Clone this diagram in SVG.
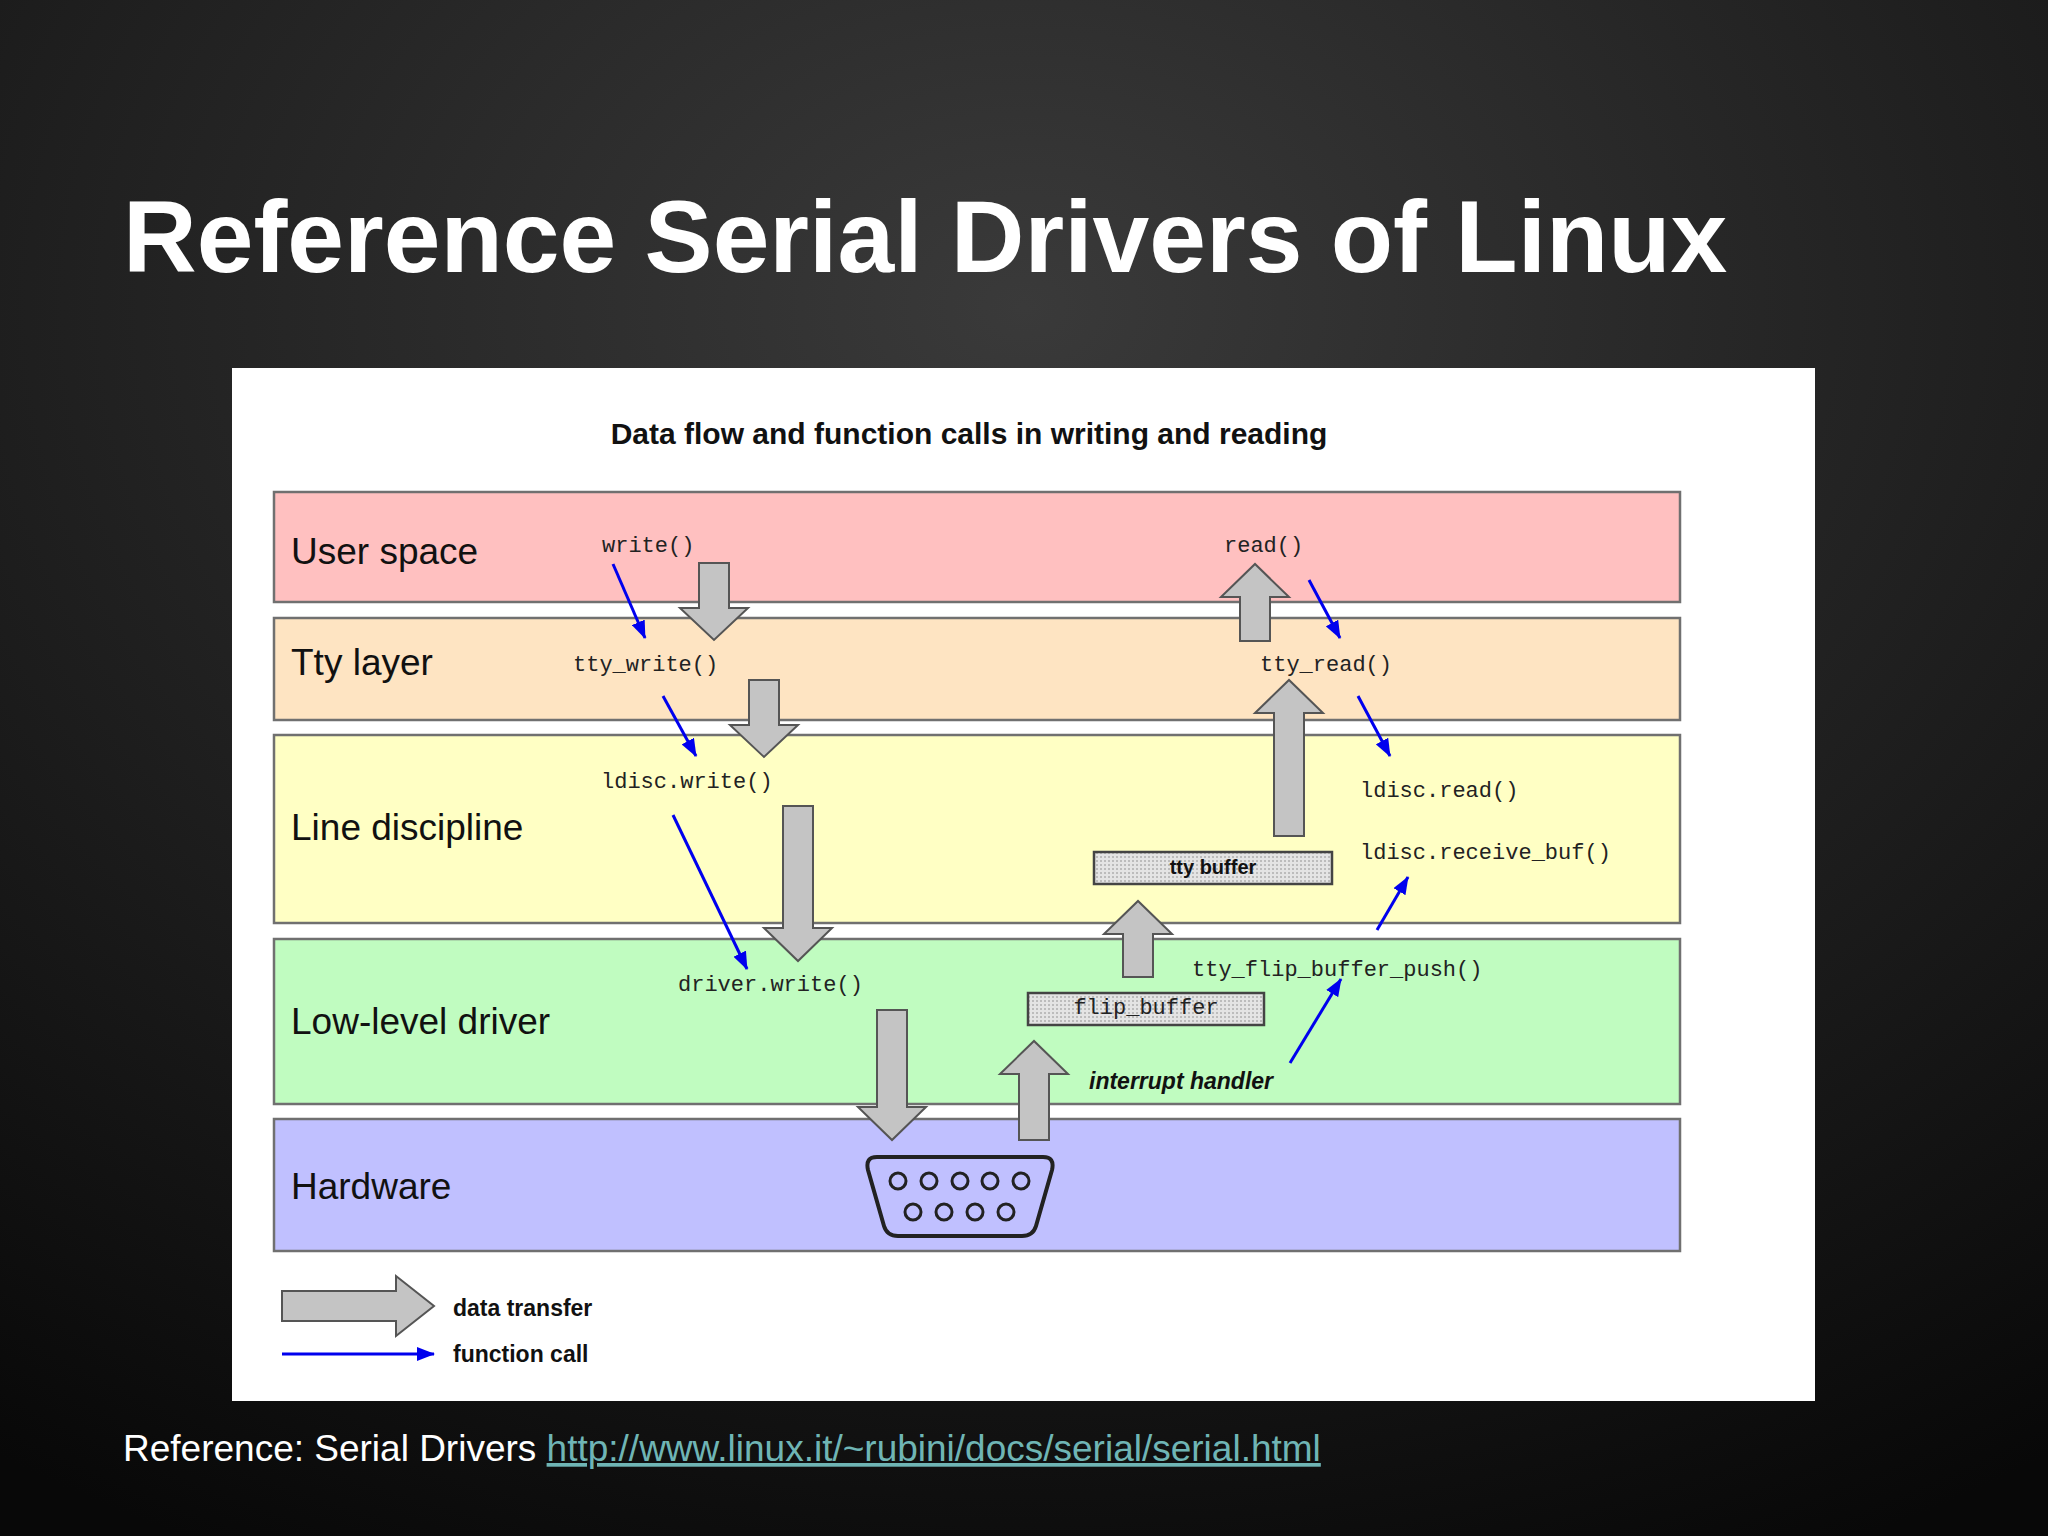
<svg xmlns="http://www.w3.org/2000/svg" width="2048" height="1536" viewBox="0 0 2048 1536">
<defs>
<radialGradient id="bg" cx="0.5" cy="0.2" r="0.9">
<stop offset="0" stop-color="#3a3a3a"/><stop offset="1" stop-color="#080808"/>
</radialGradient>
<pattern id="dots" width="4" height="4" patternUnits="userSpaceOnUse">
<rect width="4" height="4" fill="#e4e4e4"/><rect width="2" height="2" fill="#bcbcbc"/>
</pattern>
<marker id="bh" markerWidth="10" markerHeight="10" refX="9" refY="5" orient="auto" markerUnits="userSpaceOnUse" viewBox="0 0 10 10">
<path d="M0,0 L10,5 L0,10 z" fill="#0000ee"/>
</marker>
<marker id="bh2" markerWidth="18" markerHeight="14" refX="17" refY="7" orient="auto" markerUnits="userSpaceOnUse" viewBox="0 0 18 14">
<path d="M0,0 L18,7 L0,14 z" fill="#0000ee"/>
</marker>
</defs>
<style>
.band{stroke:#707070;stroke-width:2.5}
.lbl{font-family:"Liberation Sans",Arial,sans-serif;font-size:37px;fill:#111}
.mono{font-family:"Liberation Mono","Courier New",monospace;font-size:22px;fill:#222}
.ga{fill:#c4c4c4;stroke:#555;stroke-width:2}
.fc{stroke:#0000ee;stroke-width:3;fill:none;marker-end:url(#bh2)}
.box{fill:url(#dots);stroke:#444;stroke-width:2.5}
.bold{font-family:"Liberation Sans",Arial,sans-serif;font-weight:bold;fill:#111}
</style>
<rect width="2048" height="1536" fill="url(#bg)"/>
<text x="123" y="272" font-family="Liberation Sans,Arial,sans-serif" font-weight="bold" font-size="102" fill="#fff">Reference Serial Drivers of Linux</text>
<rect x="232" y="368" width="1583" height="1033" fill="#fff"/>
<text x="969" y="444" text-anchor="middle" class="bold" font-size="30">Data flow and function calls in writing and reading</text>

<g id="user"><rect class="band" x="274" y="492" width="1406" height="110" fill="#ffc0c0"/><text class="lbl" x="291" y="564">User space</text></g>
<g id="tty"><rect class="band" x="274" y="618" width="1406" height="102" fill="#fee4c2"/><text class="lbl" x="291" y="675">Tty layer</text></g>
<g id="ldisc"><rect class="band" x="274" y="735" width="1406" height="188" fill="#ffffc4"/><text class="lbl" x="291" y="840">Line discipline</text></g>
<g id="low"><rect class="band" x="274" y="939" width="1406" height="165" fill="#c0fcc0"/><text class="lbl" x="291" y="1034">Low-level driver</text></g>
<g id="hw"><rect class="band" x="274" y="1119" width="1406" height="132" fill="#c0c0ff"/><text class="lbl" x="291" y="1199">Hardware</text></g>

<g id="texts">
<text class="mono" x="602" y="552">write()</text>
<text class="mono" x="573" y="671">tty_write()</text>
<text class="mono" x="601" y="788">ldisc.write()</text>
<text class="mono" x="678" y="991">driver.write()</text>
<text class="mono" x="1224" y="552">read()</text>
<text class="mono" x="1260" y="671">tty_read()</text>
<text class="mono" x="1360" y="797">ldisc.read()</text>
<text class="mono" x="1360" y="859">ldisc.receive_buf()</text>
<text class="mono" x="1192" y="976">tty_flip_buffer_push()</text>
<text class="bold" x="1089" y="1089" font-size="23" font-style="italic">interrupt handler</text>
</g>
<g id="ttybuf"><rect class="box" x="1094" y="852" width="238" height="32"/><text class="bold" x="1213" y="874" font-size="20" text-anchor="middle">tty buffer</text></g>
<g id="flipbuf"><rect class="box" x="1028" y="993" width="236" height="32"/><text class="mono" x="1146" y="1014" font-size="20" text-anchor="middle">flip_buffer</text></g>

<g id="connector-port">
<path d="M877,1157 L1043,1157 Q1055,1157 1052,1170 L1036,1226 Q1033,1236 1022,1236 L898,1236 Q887,1236 884,1226 L868,1170 Q865,1157 877,1157 z" fill="#c0c0ff" stroke="#222" stroke-width="4"/>
<g fill="none" stroke="#222" stroke-width="3">
<circle cx="898" cy="1181" r="8"/><circle cx="929" cy="1181" r="8"/><circle cx="960" cy="1181" r="8"/><circle cx="990" cy="1181" r="8"/><circle cx="1021" cy="1181" r="8"/>
<circle cx="913" cy="1212" r="8"/><circle cx="944" cy="1212" r="8"/><circle cx="975" cy="1212" r="8"/><circle cx="1006" cy="1212" r="8"/>
</g>
</g>

<g id="connectors">
<path class="ga" d="M699,563 h30 v45 h19 l-34,32 l-34,-32 h19 z"/>
<path class="ga" d="M749,680 h30 v45 h19 l-34,32 l-34,-32 h19 z"/>
<path class="ga" d="M783,806 h30 v122 h19 l-34,33 l-34,-33 h19 z"/>
<path class="ga" d="M877,1010 h30 v97 h19 l-34,33 l-34,-33 h19 z"/>
<path class="ga" d="M1019,1140 h30 v-66 h19 l-34,-33 l-34,33 h19 z"/>
<path class="ga" d="M1123,977 h30 v-43 h19 l-34,-33 l-34,33 h19 z"/>
<path class="ga" d="M1274,836 h30 v-123 h19 l-34,-33 l-34,33 h19 z"/>
<path class="ga" d="M1240,641 h30 v-44 h19 l-34,-33 l-34,33 h19 z"/>
<line class="fc" x1="613" y1="564" x2="645" y2="638"/>
<line class="fc" x1="663" y1="696" x2="696" y2="756"/>
<line class="fc" x1="673" y1="815" x2="747" y2="969"/>
<line class="fc" x1="1309" y1="580" x2="1340" y2="638"/>
<line class="fc" x1="1358" y1="696" x2="1390" y2="756"/>
<line class="fc" x1="1377" y1="930" x2="1408" y2="877"/>
<line class="fc" x1="1290" y1="1063" x2="1341" y2="979"/>
</g>

<g id="legend">
<path class="ga" d="M282,1291 h114 v-15 l38,30 l-38,30 v-15 h-114 z"/>
<text class="bold" x="453" y="1316" font-size="23">data transfer</text>
<line class="fc" x1="282" y1="1354" x2="434" y2="1354"/>
<text class="bold" x="453" y="1362" font-size="23">function call</text>
</g>

<text x="123" y="1461" font-family="Liberation Sans,Arial,sans-serif" font-size="37" fill="#fff">Reference: Serial Drivers <tspan fill="#6fb5b5" text-decoration="underline">http://www.linux.it/~rubini/docs/serial/serial.html</tspan></text>
</svg>
